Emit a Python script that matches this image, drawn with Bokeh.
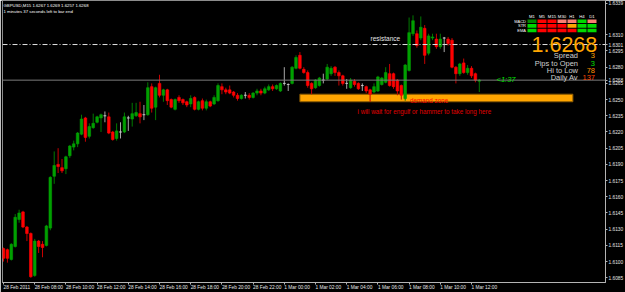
import pandas as pd
from bokeh.plotting import figure
from bokeh.models import Range1d, LinearAxis, FixedTicker, Span, Label, ColumnDataSource, NumeralTickFormatter
from bokeh.embed import file_html
from bokeh.resources import INLINE

# ---------------- data (GBPUSD M15) ----------------
symbol_title = "GBPUSD,M15  1.6267 1.6269 1.6257 1.6268"
timer_title = "1 minutes 37 seconds left to bar end"
first_bar = "2011-02-28 06:00"

open_ = [1.6112, 1.6111, 1.6102, 1.6114, 1.6139, 1.6146, 1.6132, 1.6126, 1.6087, 1.6119,
         1.6116, 1.6115, 1.6131, 1.6179, 1.6190, 1.6187, 1.6186, 1.6198, 1.6206, 1.6209,
         1.6218, 1.6233, 1.6216, 1.6224, 1.6229, 1.6233, 1.6235, 1.6234, 1.6220, 1.6214,
         1.6220, 1.6220, 1.6233, 1.6232, 1.6235, 1.6237, 1.6236, 1.6236, 1.6262, 1.6243,
         1.6265, 1.6254, 1.6259, 1.6250, 1.6241, 1.6252, 1.6250, 1.6248, 1.6246, 1.6252,
         1.6241, 1.6249, 1.6242, 1.6248, 1.6246, 1.6249, 1.6262, 1.6259, 1.6259, 1.6257,
         1.6254, 1.6251, 1.6254, 1.6254, 1.6252, 1.6256, 1.6258, 1.6256, 1.6259, 1.6262,
         1.6260, 1.6258, 1.6265, 1.6264, 1.6265, 1.6279, 1.6291, 1.6278, 1.6275, 1.6265,
         1.6261, 1.6263, 1.6268, 1.6269, 1.6274, 1.6280, 1.6275, 1.6272, 1.6265, 1.6261,
         1.6267, 1.6265, 1.6263, 1.6262, 1.6259, 1.6257, 1.6258, 1.6264, 1.6266, 1.6274,
         1.6274, 1.6268, 1.6263, 1.6251, 1.6277, 1.6311, 1.6311, 1.6307, 1.6316, 1.6293,
         1.6307, 1.6306, 1.6299, 1.6307, 1.6306, 1.6305, 1.6280, 1.6274, 1.6284, 1.6275,
         1.6279, 1.6274, 1.6267]
high = [1.6113, 1.6112, 1.6117, 1.6144, 1.6148, 1.6147, 1.6133, 1.6127, 1.6121, 1.6120,
        1.6119, 1.6134, 1.6179, 1.6202, 1.6205, 1.6195, 1.6198, 1.6208, 1.6212, 1.6220,
        1.6236, 1.6234, 1.6228, 1.6237, 1.6235, 1.6237, 1.6239, 1.6238, 1.6221, 1.6228,
        1.6229, 1.6238, 1.6235, 1.6247, 1.6247, 1.6248, 1.6245, 1.6266, 1.6265, 1.6262,
        1.6273, 1.6260, 1.6260, 1.6251, 1.6251, 1.6254, 1.6251, 1.6249, 1.6254, 1.6253,
        1.6249, 1.6251, 1.6250, 1.6249, 1.6254, 1.6265, 1.6265, 1.6261, 1.6263, 1.6258,
        1.6256, 1.6255, 1.6257, 1.6256, 1.6257, 1.6260, 1.6260, 1.6262, 1.6264, 1.6264,
        1.6264, 1.6266, 1.6280, 1.6265, 1.6281, 1.6291, 1.6294, 1.6280, 1.6277, 1.6266,
        1.6269, 1.6271, 1.6274, 1.6283, 1.6281, 1.6281, 1.6277, 1.6273, 1.6269, 1.6270,
        1.6269, 1.6266, 1.6265, 1.6263, 1.6260, 1.6265, 1.6272, 1.6271, 1.6280, 1.6283,
        1.6275, 1.6269, 1.6264, 1.6283, 1.6326, 1.6328, 1.6314, 1.6327, 1.6319, 1.6311,
        1.6311, 1.6311, 1.6311, 1.6308, 1.6308, 1.6307, 1.6281, 1.6284, 1.6288, 1.6282,
        1.6281, 1.6275, 1.6269]
low = [1.6100, 1.6099, 1.6101, 1.6113, 1.6136, 1.6131, 1.6119, 1.6085, 1.6086, 1.6108,
       1.6104, 1.6114, 1.6129, 1.6172, 1.6182, 1.6182, 1.6181, 1.6196, 1.6203, 1.6206,
       1.6217, 1.6211, 1.6214, 1.6223, 1.6228, 1.6220, 1.6229, 1.6218, 1.6212, 1.6212,
       1.6214, 1.6219, 1.6221, 1.6225, 1.6234, 1.6228, 1.6231, 1.6235, 1.6238, 1.6231,
       1.6252, 1.6248, 1.6245, 1.6242, 1.6240, 1.6247, 1.6245, 1.6243, 1.6243, 1.6240,
       1.6240, 1.6240, 1.6240, 1.6243, 1.6245, 1.6248, 1.6255, 1.6255, 1.6255, 1.6252,
       1.6249, 1.6250, 1.6251, 1.6250, 1.6251, 1.6254, 1.6254, 1.6255, 1.6258, 1.6258,
       1.6259, 1.6257, 1.6263, 1.6258, 1.6264, 1.6278, 1.6278, 1.6274, 1.6261, 1.6255,
       1.6260, 1.6262, 1.6265, 1.6268, 1.6272, 1.6272, 1.6263, 1.6263, 1.6260, 1.6260,
       1.6262, 1.6259, 1.6258, 1.6256, 1.6248, 1.6256, 1.6257, 1.6263, 1.6265, 1.6262,
       1.6260, 1.6254, 1.6250, 1.6249, 1.6276, 1.6309, 1.6298, 1.6305, 1.6283, 1.6291,
       1.6305, 1.6297, 1.6297, 1.6294, 1.6300, 1.6279, 1.6265, 1.6272, 1.6274, 1.6273,
       1.6270, 1.6266, 1.6257]
close = [1.6103, 1.6103, 1.6116, 1.6141, 1.6145, 1.6132, 1.6126, 1.6086, 1.6119, 1.6114,
         1.6113, 1.6133, 1.6178, 1.6189, 1.6188, 1.6184, 1.6197, 1.6207, 1.6209, 1.6219,
         1.6232, 1.6215, 1.6225, 1.6228, 1.6234, 1.6236, 1.6235, 1.6219, 1.6213, 1.6221,
         1.6220, 1.6234, 1.6233, 1.6237, 1.6238, 1.6234, 1.6236, 1.6261, 1.6242, 1.6261,
         1.6254, 1.6259, 1.6249, 1.6243, 1.6250, 1.6249, 1.6247, 1.6245, 1.6251, 1.6241,
         1.6248, 1.6242, 1.6248, 1.6244, 1.6252, 1.6263, 1.6259, 1.6257, 1.6256, 1.6254,
         1.6251, 1.6254, 1.6254, 1.6252, 1.6256, 1.6258, 1.6256, 1.6260, 1.6262, 1.6260,
         1.6263, 1.6265, 1.6265, 1.6264, 1.6280, 1.6289, 1.6279, 1.6275, 1.6263, 1.6260,
         1.6268, 1.6270, 1.6268, 1.6280, 1.6279, 1.6275, 1.6272, 1.6265, 1.6265, 1.6268,
         1.6264, 1.6260, 1.6263, 1.6258, 1.6255, 1.6262, 1.6271, 1.6270, 1.6275, 1.6263,
         1.6262, 1.6258, 1.6254, 1.6282, 1.6312, 1.6323, 1.6300, 1.6317, 1.6291, 1.6309,
         1.6308, 1.6299, 1.6306, 1.6307, 1.6302, 1.6280, 1.6274, 1.6283, 1.6275, 1.6279,
         1.6272, 1.6268, 1.6268]

time_tick_labels = ["28 Feb 2011", "28 Feb 08:00", "28 Feb 10:00", "28 Feb 12:00", "28 Feb 14:00",
                    "28 Feb 16:00", "28 Feb 18:00", "28 Feb 20:00", "28 Feb 22:00", "1 Mar 00:00",
                    "1 Mar 02:00", "1 Mar 04:00", "1 Mar 06:00", "1 Mar 08:00", "1 Mar 10:00",
                    "1 Mar 12:00"]
time_tick_times = ["2011-02-28 06:00", "2011-02-28 08:00", "2011-02-28 10:00", "2011-02-28 12:00",
                   "2011-02-28 14:00", "2011-02-28 16:00", "2011-02-28 18:00", "2011-02-28 20:00",
                   "2011-02-28 22:00", "2011-03-01 00:00", "2011-03-01 02:00", "2011-03-01 04:00",
                   "2011-03-01 06:00", "2011-03-01 08:00", "2011-03-01 10:00", "2011-03-01 12:00"]
price_ticks = [1.6085, 1.6100, 1.6115, 1.6130, 1.6145, 1.6160, 1.6175, 1.6190, 1.6205,
               1.6220, 1.6235, 1.6250, 1.6265, 1.6280, 1.6295, 1.6310, 1.6339]

resistance_price = 1.6301
bid_price = 1.6268
zone_low, zone_high = 1.6248, 1.6255
zone_start, zone_end = "2011-03-01 01:00", "2011-03-01 18:30"
bar_timer = "<1:37"

tf_labels = ["M1", "M5", "M15", "M30", "H1", "H4", "D1"]
ind_labels = ["MACD", "STR", "EMA"]
signal_colors = [
    ["#008800", "#FF0000", "#FF0000", "#FA8072", "#FA8072", "#00D800", "#FA8072"],
    ["#00D800", "#FF0000", "#FF0000", "#FF0000", "#FFA500", "#00D800", "#00D800"],
    ["#00D800", "#FF0000", "#FF0000", "#FF0000", "#FF0000", "#00D800", "#00D800"],
]
info_names = ["Spread", "Pips to Open", "Hi to Low", "Daily Av"]
info_values = ["3", "3", "78", "137"]
info_colors = ["#FFA500", "#00E000", "#FF8C00", "#FF4500"]
big_price = "1.6268"

# ---------------- geometry ----------------
t0 = pd.Timestamp(first_bar)
step = pd.Timedelta("15min")
def bar_of(t):
    return (pd.Timestamp(t) - t0) / step

n = len(open_)
x = list(range(n))
PX_L, PX_R, PX_T, PX_B = 2, 605, 0, 282
X0, X1 = -0.26, 154.36
Y0, Y1 = 1.608063, 1.634176

def sx(px):
    return X0 + (px - PX_L) / (PX_R - PX_L) * (X1 - X0)

def sy(py):
    return Y1 - (py - PX_T) / (PX_B - PX_T) * (Y1 - Y0)

BULL, BULL_W = "#00A000", "#007A00"
BEAR, BEAR_W = "#FF0000", "#C80000"
DOJI = "#D0D0D0"
body_col, wick_col = [], []
for o, c in zip(open_, close):
    if c > o:
        body_col.append(BULL); wick_col.append(BULL_W)
    elif c < o:
        body_col.append(BEAR); wick_col.append(BEAR_W)
    else:
        body_col.append(DOJI); wick_col.append("#A8A8A8")

src = ColumnDataSource(dict(
    x=x, open=open_, high=high, low=low, close=close,
    top=[max(o, c) for o, c in zip(open_, close)],
    bottom=[min(o, c) for o, c in zip(open_, close)],
    body=body_col, wick=wick_col))

FONT = "Liberation Sans"
p = figure(frame_width=PX_R - PX_L, frame_height=PX_B - PX_T,
           x_range=Range1d(X0, X1), y_range=Range1d(Y0, Y1),
           output_backend="svg", toolbar_location=None,
           x_axis_location=None, y_axis_location=None,
           min_border_left=PX_L, min_border_top=0, min_border_right=20, min_border_bottom=10,
           background_fill_color="black", border_fill_color="black",
           outline_line_color="#8C8C8C")
p.xgrid.visible = False
p.ygrid.visible = False

# axes (price scale also carries the two marked prices: resistance and bid)
scale_ticks = sorted(price_ticks + [resistance_price, bid_price])
yax = LinearAxis(ticker=FixedTicker(ticks=scale_ticks), formatter=NumeralTickFormatter(format="0.0000"))
time_ticks = [bar_of(t) for t in time_tick_times]
xax = LinearAxis(ticker=FixedTicker(ticks=time_ticks))
xax.major_label_overrides = {tb: txt for tb, txt in zip(time_ticks, time_tick_labels)}
for ax in (yax, xax):
    ax.axis_line_color = "#B4B4B4"
    ax.major_tick_line_color = "#B4B4B4"
    ax.major_tick_out = 2
    ax.major_tick_in = 0
    ax.minor_tick_line_color = None
    ax.major_label_text_color = "#E6E6E6"
    ax.major_label_text_font = FONT
    ax.major_label_text_font_size = "4.8px"
    ax.major_label_standoff = 1
# a tiny negative angle makes Bokeh anchor each time label at its left end (MetaTrader style)
xax.major_label_orientation = -0.0001
xax.major_label_standoff = 3
p.add_layout(yax, "right")
p.add_layout(xax, "below")

# demand zone
p.quad(left=[bar_of(zone_start)], right=[bar_of(zone_end)], bottom=[zone_low], top=[zone_high],
       fill_color="#FFA500", line_color="#8A5A00", line_width=1)

# lines
p.add_layout(Span(location=bid_price, dimension="width", line_color="#7C7C7C", line_width=1))
p.add_layout(Span(location=resistance_price, dimension="width", line_color="#E0E0E0",
                  line_width=1, line_dash="5 2 1 2"))

# candles
p.segment(x0="x", y0="low", x1="x", y1="high", line_color="wick", line_width=1, source=src)
p.vbar(x="x", width=0.68, top="top", bottom="bottom", fill_color="body", line_color="body",
       line_width=0.6, source=src)

def lab(px, py, text, color, size, align="left", baseline="middle", style="normal"):
    p.add_layout(Label(x=sx(px), y=sy(py), text=text, text_color=color, text_font=FONT,
                       text_font_size=size, text_align=align, text_baseline=baseline,
                       text_font_style=style))

# titles (top-left)
lab(3, 4.6, symbol_title, "#FFFFFF", "4.3px")
lab(3, 10.8, timer_title, "#FFFFFF", "4.3px")

# annotations
lab(370, 38.2, "resistance", "#E8E8E8", "6.5px")
lab(409.5, 99.6, "demand zone", "#FF0000", "6.3px")
lab(357, 111.4, "i will wait for engulf or hammer to take long here", "#E00000", "6.3px")
lab(496, 79.2, bar_timer, "#00E000", "7.5px", style="italic")

# signal table
col_left = [527 + 10 * k for k in range(len(tf_labels))]
row_top = [19.0, 23.6, 28.2]
for r, row in enumerate(signal_colors):
    for k, col in enumerate(row):
        p.quad(left=[sx(col_left[k])], right=[sx(col_left[k] + 9)],
               top=[sy(row_top[r])], bottom=[sy(row_top[r] + 3.6)],
               fill_color=col, line_color=None)
for k, tf in enumerate(tf_labels):
    lab(col_left[k] + 4.5, 15.6, tf, "#FFFFFF", "4.3px", align="center")
for r, name in enumerate(ind_labels):
    lab(525.5, row_top[r] + 1.8, name, "#FFFFFF", "4.0px", align="right")

# big price and info block
lab(531, 43.6, big_price, "#FFA500", "21.5px")
info_y = [55.2, 62.6, 70.0, 77.4]
for name, val, col, yy in zip(info_names, info_values, info_colors, info_y):
    lab(577.5, yy, name, "#CFCFCF", "7.5px", align="right")
    lab(594.5, yy, val, col, "7.5px", align="right")

open("out.html", "w").write(file_html(p, INLINE))
